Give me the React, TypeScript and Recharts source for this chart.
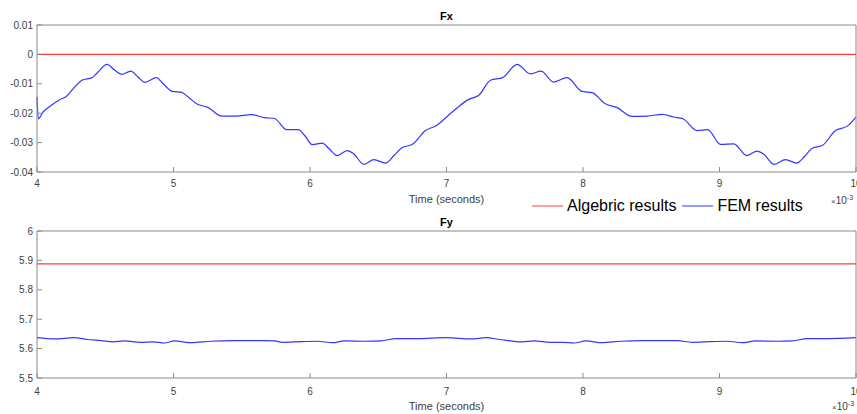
import { LineChart, Line, XAxis, YAxis } from 'recharts'

const timeTicks = [4, 5, 6, 7, 8, 9, 10]
const fxTicks = [-0.04, -0.03, -0.02, -0.01, 0, 0.01]
const fyTicks = [5.5, 5.6, 5.7, 5.8, 5.9, 6]

// algebric results are flat over the whole window
const algTime = [4, 10]
const algFx = [0, 0]
const algFy = [5.888, 5.888]

// FEM results, time in 1e-3 s
const fxTime = [
  4.0, 4.01, 4.044, 4.093, 4.166, 4.215, 4.264, 4.337, 4.4, 4.435, 4.513, 4.57, 4.62, 4.687,
  4.74, 4.79, 4.875, 4.924, 4.993, 5.059, 5.108, 5.169, 5.255, 5.352, 5.46, 5.57, 5.667, 5.74,
  5.83, 5.915, 5.96, 6.017, 6.09, 6.14, 6.2, 6.273, 6.32, 6.395, 6.468, 6.554, 6.615, 6.676,
  6.75, 6.846, 6.93, 7.005, 7.09, 7.163, 7.237, 7.322, 7.412, 7.517, 7.615, 7.693, 7.785,
  7.883, 7.993, 8.066, 8.164, 8.25, 8.36, 8.47, 8.58, 8.665, 8.733, 8.836, 8.914, 9.007,
  9.105, 9.2, 9.276, 9.325, 9.4, 9.484, 9.565, 9.62, 9.68, 9.753, 9.85, 9.936, 10.0,
]
const fxFem = [
  -0.0145, -0.0219, -0.0196, -0.0177, -0.0154, -0.0143, -0.0117, -0.0086, -0.008, -0.0066,
  -0.0034, -0.0054, -0.0068, -0.0057, -0.0077, -0.0095, -0.0079, -0.01, -0.0126, -0.0129,
  -0.0145, -0.0168, -0.0181, -0.021, -0.021, -0.0205, -0.0215, -0.0218, -0.0256, -0.0256,
  -0.0275, -0.0307, -0.0302, -0.0321, -0.0344, -0.0327, -0.0338, -0.0374, -0.0358, -0.037,
  -0.0344, -0.0317, -0.0306, -0.0259, -0.0241, -0.0211, -0.0177, -0.0153, -0.0139, -0.0088,
  -0.0079, -0.0034, -0.0066, -0.0057, -0.0094, -0.0079, -0.0126, -0.013, -0.0168, -0.0181,
  -0.0211, -0.021, -0.0204, -0.0213, -0.0219, -0.0259, -0.0256, -0.0306, -0.0304, -0.0344,
  -0.0329, -0.034, -0.0374, -0.0358, -0.037, -0.0349, -0.0319, -0.031, -0.0259, -0.0244,
  -0.0213,
]

const fyTime = [
  4.0, 4.13, 4.27, 4.37, 4.47, 4.555, 4.64, 4.76, 4.85, 4.933, 5.007, 5.13, 5.275, 5.446,
  5.665, 5.739, 5.8, 5.934, 6.056, 6.165, 6.25, 6.397, 6.52, 6.63, 6.79, 7.0, 7.18, 7.29,
  7.39, 7.556, 7.64, 7.764, 7.85, 7.935, 8.02, 8.14, 8.277, 8.447, 8.69, 8.8, 8.935, 9.06,
  9.167, 9.265, 9.423, 9.533, 9.645, 9.79, 10.0,
]
const fyFem = [
  5.6374, 5.633, 5.637, 5.631, 5.627, 5.623, 5.626, 5.6215, 5.623, 5.619, 5.626, 5.62, 5.625,
  5.627, 5.627, 5.626, 5.6215, 5.624, 5.625, 5.62, 5.626, 5.625, 5.626, 5.634, 5.634, 5.637,
  5.633, 5.637, 5.631, 5.623, 5.626, 5.6215, 5.6215, 5.619, 5.626, 5.62, 5.625, 5.627, 5.627,
  5.6215, 5.624, 5.625, 5.62, 5.626, 5.625, 5.626, 5.634, 5.634, 5.637,
]

const zip = (t: number[], v: number[]) => t.map((time, i) => ({ time, value: v[i] }))

const AXIS = '#8a8a8a'
const TXT = '#404040'
const RED = '#ff3b3b'
const BLUE = '#3535ff'
const FONT = '"Liberation Sans", Arial, Helvetica, sans-serif'

function BottomTick({ x, y, payload, gap, expDx, expGap }: any) {
  return (
    <g>
      <line x1={x} y1={y} x2={x} y2={y - 5} stroke={AXIS} />
      <text x={x} y={y + gap} textAnchor="middle" fontSize={10} fill={TXT}>
        {payload.value}
      </text>
      {payload.value === 10 && (
        <text x={x + expDx} y={y + expGap} fontSize={10} fill={TXT}>
          <tspan fontSize={8}>×</tspan>
          <tspan>10</tspan>
          <tspan dy={-4} fontSize={7}>-3</tspan>
        </text>
      )}
    </g>
  )
}

function TopTick({ x, y }: any) {
  return <line x1={x} y1={y} x2={x} y2={y + 5} stroke={AXIS} />
}

function LeftTick({ x, y, payload }: any) {
  return (
    <g>
      <line x1={x} y1={y} x2={x + 5} y2={y} stroke={AXIS} />
      <text x={x - 4} y={y + 3.5} textAnchor="end" fontSize={10} fill={TXT}>
        {payload.value}
      </text>
    </g>
  )
}

function RightTick({ x, y }: any) {
  return <line x1={x} y1={y} x2={x - 5} y2={y} stroke={AXIS} />
}

function Panel({ title, fem, alg, yDomain, yTicks, height, topH, bottomH, gap, expDx, expGap, labelOffset }: any) {
  return (
    <LineChart
      width={857}
      height={height}
      margin={{ top: 0, right: 0, bottom: 0, left: 0 }}
      style={{ fontFamily: FONT }}
    >
      <XAxis
        xAxisId="t"
        orientation="top"
        dataKey="time"
        type="number"
        domain={[4, 10]}
        ticks={timeTicks}
        interval={0}
        height={topH}
        tickSize={0}
        tickMargin={0}
        tickLine={false}
        axisLine={{ stroke: AXIS }}
        tick={(p: any) => <TopTick {...p} />}
        label={{ value: title, position: 'insideBottom', offset: 5, fontSize: 11, fontWeight: 'bold', fill: '#000' }}
      />
      <XAxis
        xAxisId="b"
        dataKey="time"
        type="number"
        domain={[4, 10]}
        ticks={timeTicks}
        interval={0}
        height={bottomH}
        tickSize={0}
        tickMargin={0}
        tickLine={false}
        axisLine={{ stroke: AXIS }}
        tick={(p: any) => <BottomTick {...p} gap={gap} expDx={expDx} expGap={expGap} />}
        label={{ value: 'Time (seconds)', position: 'insideBottom', offset: labelOffset, fontSize: 11, fill: TXT }}
      />
      <YAxis
        yAxisId="l"
        type="number"
        domain={yDomain}
        ticks={yTicks}
        interval={0}
        width={37}
        tickSize={0}
        tickMargin={0}
        tickLine={false}
        axisLine={{ stroke: AXIS }}
        tick={(p: any) => <LeftTick {...p} />}
      />
      <YAxis
        yAxisId="r"
        orientation="right"
        type="number"
        domain={yDomain}
        ticks={yTicks}
        interval={0}
        width={1}
        tickSize={0}
        tickMargin={0}
        tickLine={false}
        axisLine={{ stroke: AXIS }}
        tick={(p: any) => <RightTick {...p} />}
      />
      <Line
        xAxisId="b"
        yAxisId="l"
        data={alg}
        dataKey="value"
        type="linear"
        stroke={RED}
        strokeWidth={1.2}
        dot={false}
        isAnimationActive={false}
      />
      <Line
        xAxisId="b"
        yAxisId="l"
        data={fem}
        dataKey="value"
        type="monotone"
        stroke={BLUE}
        strokeWidth={1.2}
        dot={false}
        isAnimationActive={false}
      />
    </LineChart>
  )
}

function Swatch({ color }: { color: string }) {
  return (
    <svg width={31} height={4} style={{ marginRight: 4 }}>
      <line x1={0} y1={2} x2={31} y2={2} stroke={color} strokeWidth={1} />
    </svg>
  )
}

export default function App() {
  return (
    <div style={{ position: 'absolute', left: 0, top: 0, width: 857, height: 414, background: '#fff', fontFamily: FONT }}>
      <div style={{ position: 'absolute', left: 0, top: 0 }}>
        <Panel
          title="Fx"
          fem={zip(fxTime, fxFem)}
          alg={zip(algTime, algFx)}
          yDomain={[-0.04, 0.01]}
          yTicks={fxTicks}
          height={210}
          topH={25}
          bottomH={38}
          gap={15}
          expDx={-25}
          expGap={32}
          labelOffset={7}
        />
      </div>
      <div style={{ position: 'absolute', left: 0, top: 210 }}>
        <Panel
          title="Fy"
          fem={zip(fyTime, fyFem)}
          alg={zip(algTime, algFy)}
          yDomain={[5.5, 6]}
          yTicks={fyTicks}
          height={204}
          topH={21}
          bottomH={36}
          gap={16.5}
          expDx={-24}
          expGap={32}
          labelOffset={4}
        />
      </div>
      <div
        style={{
          position: 'absolute',
          left: 532,
          top: 197,
          display: 'flex',
          alignItems: 'center',
          fontSize: 16,
          lineHeight: '18px',
          color: '#000',
          whiteSpace: 'nowrap',
        }}
      >
        <Swatch color={RED} />
        <span style={{ marginRight: 6 }}>Algebric results</span>
        <Swatch color={BLUE} />
        <span>FEM results</span>
      </div>
    </div>
  )
}
